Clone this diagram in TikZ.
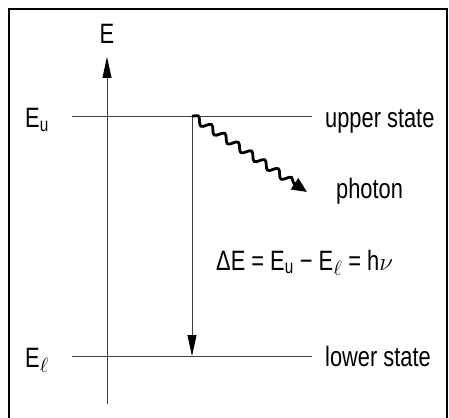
\documentclass[tikz,border=0pt]{standalone}
\usepackage{fontspec}
\setmainfont[FakeStretch=0.78]{Liberation Sans}
\usetikzlibrary{arrows.meta,decorations.pathmorphing}
\tikzset{
  lbl/.style={inner sep=0pt, font=\fontsize{28}{32}\selectfont},
  level/.style={draw=black!75, line width=0.9pt},
  axisline/.style={draw=black!75, line width=0.9pt, -{Triangle[length=21pt,width=9pt,color=black]}},
  photonarrow/.style={line width=2.8pt, decorate,
    decoration={snake, amplitude=3.6pt, segment length=16pt, post length=12pt},
    -{Triangle[length=15pt,width=13pt]}},
}
\begin{document}
\begin{tikzpicture}[x=1pt,y=-1pt]
\useasboundingbox (0,0) rectangle (449,417);
\draw[line width=2pt] (9,9) rectangle (447,430);
% coordinates
\coordinate (axB) at (107,404);
\coordinate (axT) at (107,57);
\coordinate (upL) at (72,116);
\coordinate (upR) at (312,116);
\coordinate (loL) at (72,356);
\coordinate (loR) at (312,356);
\coordinate (trT) at (192,116);
\coordinate (trB) at (192,356);
\coordinate (phE) at (307,192);
% lines
\draw[level] (upL) -- (upR);
\draw[level] (loL) -- (loR);
\draw[axisline] (axB) -- (axT);
\draw[axisline] (trT) -- (trB);
\draw[photonarrow] (trT) -- (phE);
% labels
\node[lbl, anchor=base] (E) at (107,44) {E};
\node[lbl, anchor=base west] (Eu) at (25,128) {E\textsubscript{u}};
\node[lbl, anchor=base west] (El) at (25,367) {E\textsubscript{$\ell$}};
\node[lbl, anchor=base west] (us) at (325,128) {upper state};
\node[lbl, anchor=base west] (ls) at (325,366) {lower state};
\node[lbl, anchor=base west] (ph) at (336,198) {photon};
\node[lbl, anchor=base west] (de) at (216,270) {ΔE = E\textsubscript{u} − E\textsubscript{$\ell$} = h$\nu$};
\end{tikzpicture}
\end{document}
